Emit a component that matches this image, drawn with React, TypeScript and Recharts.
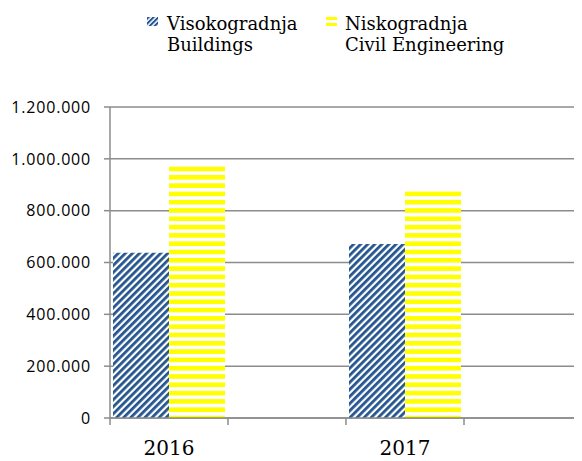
import { Bar, BarChart, CartesianGrid, Legend, XAxis, YAxis } from "recharts";

const years = ["2016", "", "2017", ""];
const buildings = [638000, null, 671000, null];
const civil = [972000, null, 877000, null];
const yTicks = [0, 200000, 400000, 600000, 800000, 1000000, 1200000];

const seriesNames = {
  buildings: ["Visokogradnja", "Buildings"],
  civil: ["Niskogradnja", "Civil Engineering"],
};

const data = years.map((year, i) => ({
  year,
  buildings: buildings[i],
  civil: civil[i],
}));

const CHART_W = 574;
const CHART_H = 453;
const PLOT_LEFT = 102;
const PLOT_W = CHART_W - PLOT_LEFT;
const BAND = PLOT_W / years.length;
const GRID = "#8c8c8c";
const SERIF = "'DejaVu Serif', serif";

// legend layout (icon x, text x) per series
const legendItems: { key: "buildings" | "civil"; icon: number; text: number; fill: string }[] = [
  { key: "buildings", icon: 139, text: 159, fill: "url(#hatchBlueSmall)" },
  { key: "civil", icon: 318, text: 337, fill: "url(#stripeYellowSmall)" },
];

function formatThousands(value: number) {
  return value.toLocaleString("de-DE");
}

function YearTick(props: any) {
  const { x, y, payload, index } = props;
  const left = x - BAND / 2;
  return (
    <g>
      <line x1={left} y1={y - 8} x2={left} y2={y - 1} stroke={GRID} strokeWidth={1.5} />
      {index === years.length - 1 && (
        <line x1={left + BAND} y1={y - 8} x2={left + BAND} y2={y - 1} stroke={GRID} strokeWidth={1.5} />
      )}
      <text x={x} y={y + 29} textAnchor="middle" fontFamily={SERIF} fontSize={20} fill="#000">
        {payload.value}
      </text>
    </g>
  );
}

function ChartLegend() {
  return (
    <svg width={CHART_W} height={60} style={{ display: "block" }}>
      {legendItems.map((item) => (
        <g key={item.key}>
          <rect x={item.icon} y={9} width={11} height={9} fill={item.fill} />
          <text x={item.text} y={22} fontFamily={SERIF} fontSize={18} fill="#000">
            {seriesNames[item.key][0]}
          </text>
          <text x={item.text} y={43} fontFamily={SERIF} fontSize={18} fill="#000">
            {seriesNames[item.key][1]}
          </text>
        </g>
      ))}
    </svg>
  );
}

export default function App() {
  return (
    <div style={{ width: CHART_W, height: CHART_H }}>
      <svg width={0} height={0} style={{ position: "absolute" }}>
        <defs>
          <pattern id="hatchBlue" width={5} height={5} patternUnits="userSpaceOnUse" patternTransform="rotate(45)">
            <rect width={5} height={5} fill="#ffffff" />
            <rect width={2.8} height={5} fill="#24558f" />
          </pattern>
          <pattern id="hatchBlueSmall" width={3.5} height={3.5} patternUnits="userSpaceOnUse" patternTransform="rotate(45)">
            <rect width={3.5} height={3.5} fill="#ffffff" />
            <rect width={2} height={3.5} fill="#24558f" />
          </pattern>
          <pattern id="stripeYellow" width={8} height={8.3} patternUnits="userSpaceOnUse" y={1}>
            <rect width={8} height={8.3} fill="#ffffff" />
            <rect width={8} height={4.6} fill="#ffff00" />
          </pattern>
          <pattern id="stripeYellowSmall" width={8} height={6} patternUnits="userSpaceOnUse" y={9}>
            <rect width={8} height={6} fill="#ffffff" />
            <rect width={8} height={3} fill="#ffff00" />
          </pattern>
        </defs>
      </svg>
      <BarChart
        width={CHART_W}
        height={CHART_H}
        data={data}
        margin={{ top: 0, right: 0, bottom: 0, left: 0 }}
        barCategoryGap={3}
        barGap={0}
      >
        <Legend verticalAlign="top" height={99} content={() => <ChartLegend />} />
        <CartesianGrid vertical={false} stroke={GRID} strokeWidth={1.5} />
        <XAxis
          dataKey="year"
          interval={0}
          tickLine={false}
          axisLine={{ stroke: GRID, strokeWidth: 1.5 }}
          tick={<YearTick />}
          height={43}
        />
        <YAxis
          domain={[0, 1200000]}
          ticks={yTicks}
          width={PLOT_LEFT}
          tickSize={6}
          tickMargin={13}
          tickLine={{ stroke: GRID, strokeWidth: 1.5 }}
          axisLine={{ stroke: GRID, strokeWidth: 1.5 }}
          tickFormatter={formatThousands}
          tick={{ fill: "#000", fontFamily: "'Open Sans', sans-serif", fontSize: 16, letterSpacing: 0.8 }}
        />
        <Bar dataKey="buildings" fill="url(#hatchBlue)" isAnimationActive={false} />
        <Bar dataKey="civil" fill="url(#stripeYellow)" isAnimationActive={false} />
      </BarChart>
    </div>
  );
}
